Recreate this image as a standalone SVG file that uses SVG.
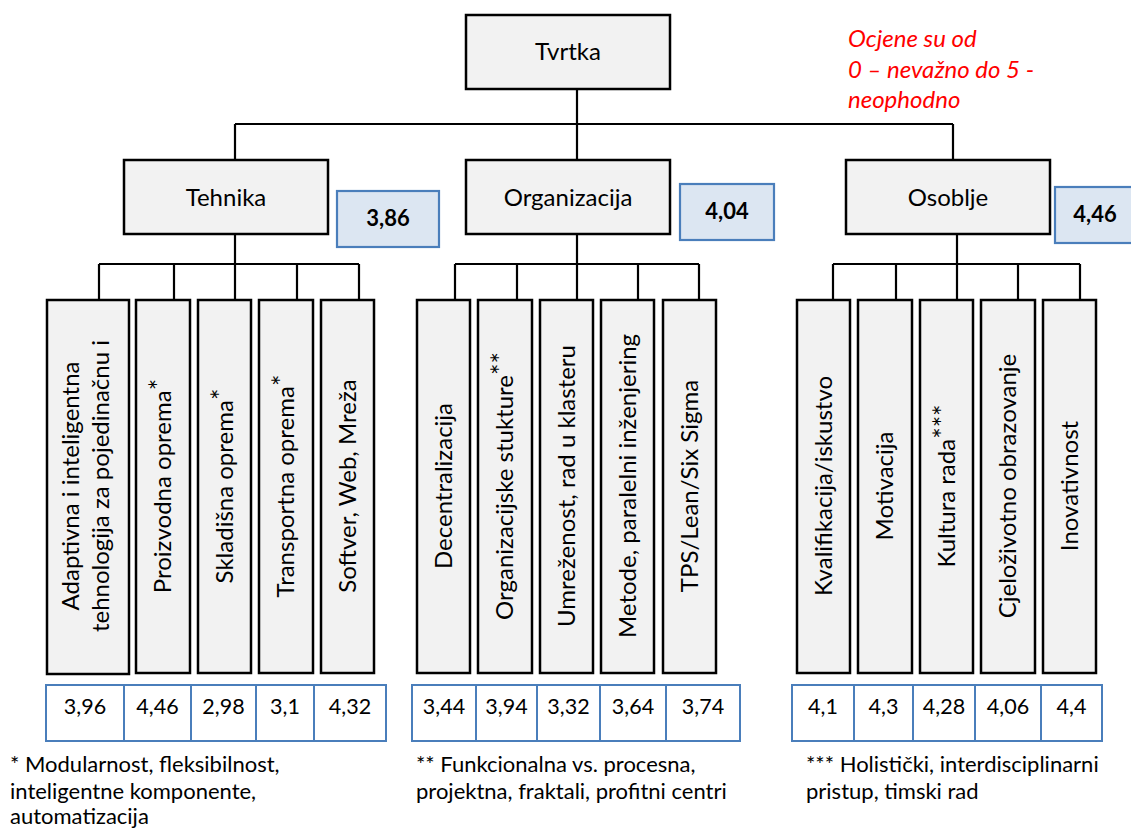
<svg xmlns="http://www.w3.org/2000/svg" width="1131" height="830" viewBox="0 0 1131 830">
<style>
.box{fill:#f2f2f2;stroke:#000;stroke-width:2.5}
.val{fill:#dce6f2;stroke:#4a7ebb;stroke-width:2.2}
.tbl{fill:#fff;stroke:#4a7ebb;stroke-width:2}
.ln{fill:none;stroke:#000;stroke-width:2.2}
text{font-family:Lato,"Liberation Sans",sans-serif;fill:#000}
.h{font-size:24px;text-anchor:middle}
.b{font-size:22px;font-weight:bold;text-anchor:middle}
.c{font-size:24px;text-anchor:middle}
.s{font-size:27px}
.n{font-size:21.5px;text-anchor:middle}
.f{font-size:22px}
.r{font-size:24px;font-style:italic;fill:#ff0000}
</style>
<rect width="1131" height="830" fill="#fff"/>
<g id="connectors">
<path class="ln" d="M577 89V160M235 124H953M235 124V160M953 124V160"/>
<path class="ln" d="M235 234V264M99 264H359M99 264V300M174 264V300M235 264V300M297 264V300M359 264V300"/>
<path class="ln" d="M577 234V264M455 264H699M455 264V300M517 264V300M577 264V300M638 264V300M699 264V300"/>
<path class="ln" d="M957 234V264M833 264H1080M833 264V300M896 264V300M957 264V300M1018 264V300M1080 264V300"/>
</g>
<g id="tvrtka"><rect class="box" x="466" y="15" width="204" height="74"/><text class="h" x="568" y="60">Tvrtka</text></g>
<g id="tehnika"><rect class="box" x="124" y="160" width="204" height="74"/><text class="h" x="226" y="206">Tehnika</text></g>
<g id="organizacija"><rect class="box" x="466" y="160" width="204" height="74"/><text class="h" x="568" y="206">Organizacija</text></g>
<g id="osoblje"><rect class="box" x="846" y="160" width="204" height="74"/><text class="h" x="948" y="206">Osoblje</text></g>
<g id="v-tehnika"><rect class="val" x="337" y="191" width="102" height="56"/><text class="b" x="388" y="226">3,86</text></g>
<g id="v-organizacija"><rect class="val" x="680" y="184" width="94" height="56"/><text class="b" x="727" y="219">4,04</text></g>
<g id="v-osoblje"><rect class="val" x="1055" y="187" width="96" height="56"/><text class="b" x="1095" y="222">4,46</text></g>
<g id="note"><text class="r" x="848" y="47">Ocjene su od</text><text class="r" x="848" y="78">0 – nevažno do 5 -</text><text class="r" x="848" y="108">neophodno</text></g>
<g id="t1"><rect class="box" x="47" y="300" width="82" height="374"/><text class="c" transform="translate(88,486) rotate(-90)"><tspan x="0" y="-9">Adaptivna i inteligentna</tspan><tspan x="0" y="21">tehnologija za pojedinačnu i</tspan></text></g>
<g id="t2"><rect class="box" x="136" y="300" width="54" height="373"/><text class="c" transform="translate(163,486) rotate(-90)" y="8">Proizvodna oprema<tspan class="s" dy="-2">*</tspan></text></g>
<g id="t3"><rect class="box" x="198" y="300" width="53" height="373"/><text class="c" transform="translate(224.5,486) rotate(-90)" y="8">Skladišna oprema<tspan class="s" dy="-2">*</tspan></text></g>
<g id="t4"><rect class="box" x="259" y="300" width="54" height="373"/><text class="c" transform="translate(286,486) rotate(-90)" y="8">Transportna oprema<tspan class="s" dy="-2">*</tspan></text></g>
<g id="t5"><rect class="box" x="321" y="300" width="53" height="373"/><text class="c" transform="translate(347.5,486) rotate(-90)" y="8">Softver, Web, Mreža</text></g>
<g id="o1"><rect class="box" x="417" y="300" width="53" height="373"/><text class="c" transform="translate(443.5,486) rotate(-90)" y="8">Decentralizacija</text></g>
<g id="o2"><rect class="box" x="478" y="300" width="54" height="373"/><text class="c" transform="translate(505,486) rotate(-90)" y="8">Organizacijske stukture<tspan class="s" dy="-2">**</tspan></text></g>
<g id="o3"><rect class="box" x="540" y="300" width="53" height="373"/><text class="c" transform="translate(566.5,486) rotate(-90)" y="8">Umreženost, rad u klasteru</text></g>
<g id="o4"><rect class="box" x="601" y="300" width="53" height="373"/><text class="c" transform="translate(627.5,486) rotate(-90)" y="8">Metode, paralelni inženjering</text></g>
<g id="o5"><rect class="box" x="663" y="300" width="53" height="373"/><text class="c" transform="translate(689.5,486) rotate(-90)" y="8">TPS/Lean/Six Sigma</text></g>
<g id="p1"><rect class="box" x="797" y="300" width="53" height="373"/><text class="c" transform="translate(823.5,486) rotate(-90)" y="8">Kvalifikacija/iskustvo</text></g>
<g id="p2"><rect class="box" x="858" y="300" width="54" height="373"/><text class="c" transform="translate(885,486) rotate(-90)" y="8">Motivacija</text></g>
<g id="p3"><rect class="box" x="920" y="300" width="53" height="373"/><text class="c" transform="translate(946.5,486) rotate(-90)" y="8">Kultura rada<tspan class="s" dy="-2">***</tspan></text></g>
<g id="p4"><rect class="box" x="981" y="300" width="54" height="373"/><text class="c" transform="translate(1008,486) rotate(-90)" y="8">Cjeloživotno obrazovanje</text></g>
<g id="p5"><rect class="box" x="1043" y="300" width="53" height="373"/><text class="c" transform="translate(1069.5,486) rotate(-90)" y="8">Inovativnost</text></g>
<g id="table-tehnika">
<rect class="tbl" x="46" y="685" width="340" height="56"/>
<path class="tbl" d="M124 685V741M191 685V741M256 685V741M314 685V741"/>
<text class="n" x="85" y="714">3,96</text><text class="n" x="157.5" y="714">4,46</text><text class="n" x="223.5" y="714">2,98</text><text class="n" x="285" y="714">3,1</text><text class="n" x="350" y="714">4,32</text>
</g>
<g id="table-organizacija">
<rect class="tbl" x="412" y="685" width="328" height="56"/>
<path class="tbl" d="M476 685V741M537 685V741M600 685V741M666 685V741"/>
<text class="n" x="444" y="714">3,44</text><text class="n" x="506.5" y="714">3,94</text><text class="n" x="568.5" y="714">3,32</text><text class="n" x="633" y="714">3,64</text><text class="n" x="703" y="714">3,74</text>
</g>
<g id="table-osoblje">
<rect class="tbl" x="792" y="685" width="310" height="56"/>
<path class="tbl" d="M854 685V741M913 685V741M975 685V741M1041 685V741"/>
<text class="n" x="823" y="714">4,1</text><text class="n" x="883.5" y="714">4,3</text><text class="n" x="944" y="714">4,28</text><text class="n" x="1008" y="714">4,06</text><text class="n" x="1071.5" y="714">4,4</text>
</g>
<g id="footnotes">
<text class="f" x="10" y="772">* Modularnost, fleksibilnost,</text>
<text class="f" x="10" y="799">inteligentne komponente,</text>
<text class="f" x="10" y="824">automatizacija</text>
<text class="f" x="416" y="772">** Funkcionalna vs. procesna,</text>
<text class="f" x="416" y="799">projektna, fraktali, profitni centri</text>
<text class="f" x="806" y="772">*** Holistički, interdisciplinarni</text>
<text class="f" x="806" y="799">pristup, timski rad</text>
</g>
</svg>
